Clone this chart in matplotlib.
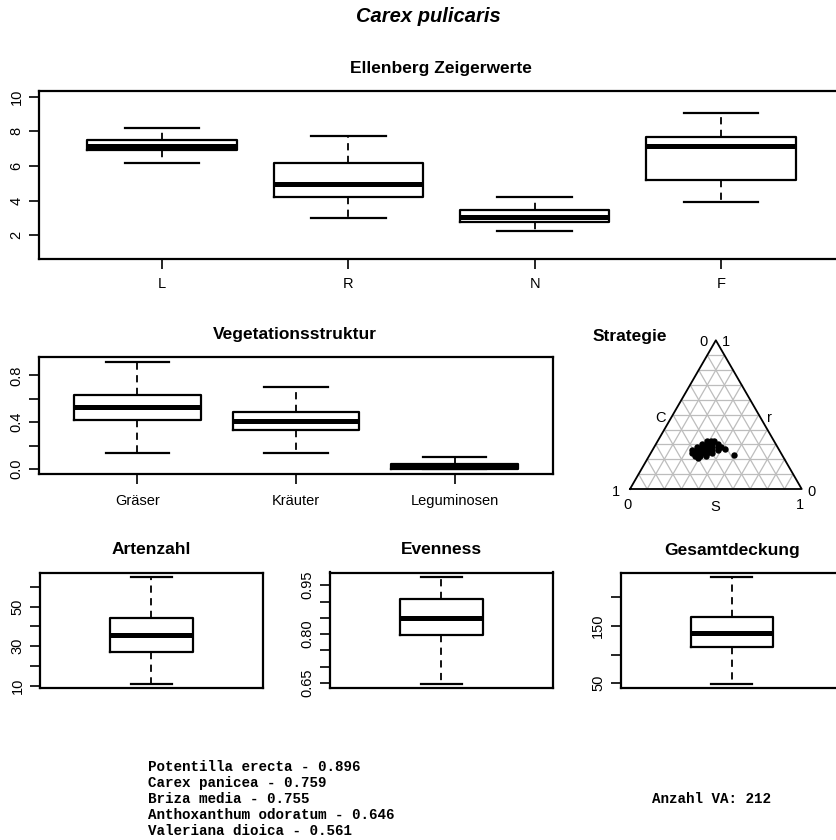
import numpy as np
import matplotlib
matplotlib.use('Agg')
import matplotlib.pyplot as plt

plt.rcParams['font.family'] = ['Liberation Sans', 'DejaVu Sans']

# Ellenberg Zeigerwerte (whislo, q1, med, q3, whishi)
ell_names = ['L', 'R', 'N', 'F']
ell_lo = [6.19, 2.99, 2.28, 3.91]
ell_q1 = [6.91, 4.22, 2.80, 5.20]
ell_med = [7.16, 4.96, 3.08, 7.16]
ell_q3 = [7.48, 6.19, 3.44, 7.67]
ell_hi = [8.20, 7.76, 4.24, 9.09]

# Vegetationsstruktur
veg_names = ['Gräser', 'Kräuter', 'Leguminosen']
veg_lo = [0.134, 0.134, 0.0]
veg_q1 = [0.423, 0.331, 0.0]
veg_med = [0.529, 0.409, 0.022]
veg_q3 = [0.629, 0.491, 0.043]
veg_hi = [0.917, 0.703, 0.106]

# Artenzahl, Evenness, Gesamtdeckung
art = [11, 27, 35.6, 44, 65]
even = [0.648, 0.796, 0.849, 0.909, 0.976]
deck = [49, 114, 137, 166, 236]

# Strategie (C, S, r)
strat_c = [0.39, 0.37, 0.35, 0.43, 0.40, 0.37, 0.34, 0.47, 0.44, 0.41, 0.38, 0.35, 0.33,
           0.51, 0.48, 0.45, 0.42, 0.39, 0.36, 0.52, 0.49, 0.46, 0.43, 0.40, 0.51, 0.48,
           0.45, 0.50, 0.31, 0.28]
strat_s = [0.29, 0.31, 0.33, 0.27, 0.30, 0.33, 0.36, 0.25, 0.28, 0.31, 0.34, 0.37, 0.39,
           0.23, 0.26, 0.29, 0.32, 0.35, 0.38, 0.24, 0.27, 0.30, 0.33, 0.36, 0.27, 0.30,
           0.33, 0.29, 0.42, 0.49]
strat_r = [0.32, 0.32, 0.32, 0.30, 0.30, 0.30, 0.30, 0.28, 0.28, 0.28, 0.28, 0.28, 0.28,
           0.26, 0.26, 0.26, 0.26, 0.26, 0.26, 0.24, 0.24, 0.24, 0.24, 0.24, 0.22, 0.22,
           0.22, 0.21, 0.27, 0.23]

top_species = ['Potentilla erecta - 0.896', 'Carex panicea - 0.759', 'Briza media - 0.755',
               'Anthoxanthum odoratum - 0.646', 'Valeriana dioica - 0.561']
anzahl_va = 212

W, H = 836, 840
fig = plt.figure(figsize=(W / 100, H / 100), dpi=100)


def rect(l, t, r, b):
    return [l / W, 1 - b / H, (r - l) / W, (b - t) / H]


def ftext(x, y, s, **kw):
    fig.text(x / W, 1 - y / H, s, ha='center', va='center', **kw)


def boxes(ax, lo, q1, med, q3, hi, width):
    stats = [dict(whislo=a, q1=b, med=c, q3=d, whishi=e, fliers=[])
             for a, b, c, d, e in zip(lo, q1, med, q3, hi)]
    pos = list(range(1, len(stats) + 1))
    ax.bxp(stats, positions=pos, widths=width, capwidths=width / 2, showfliers=False,
           boxprops=dict(color='black', lw=1.6),
           medianprops=dict(color='black', lw=3.6, solid_capstyle='butt'),
           whiskerprops=dict(color='black', lw=1.3, linestyle=(0, (4, 3))),
           capprops=dict(color='black', lw=1.6))
    ax.set_xlim(0.5 - 0.04 * len(stats), len(stats) + 0.5 + 0.04 * len(stats))
    for sp in ax.spines.values():
        sp.set_linewidth(1.6)
    ax.tick_params(direction='out', length=7, width=1.2, labelsize=10.5)
    return pos


def yticks(ax, ticks, labels):
    ax.set_yticks(ticks)
    ax.set_yticklabels(labels, rotation=90, va='center')
    ax.tick_params(axis='y', pad=4)


ftext(428, 17, 'Carex pulicaris', fontsize=14.5, fontweight='bold', style='italic')

# top panel
ax1 = fig.add_axes(rect(39, 90.5, 844, 259))
pos = boxes(ax1, ell_lo, ell_q1, ell_med, ell_q3, ell_hi, 0.8)
ax1.set_ylim(0.64, 10.36)
ax1.set_xticks(pos)
ax1.set_xticklabels(ell_names)
ax1.tick_params(axis='x', pad=6)
yticks(ax1, [2, 4, 6, 8, 10], ['2', '4', '6', '8', '10'])
ftext(441, 68, 'Ellenberg Zeigerwerte', fontsize=12.5, fontweight='bold')

# middle panel
ax2 = fig.add_axes(rect(39, 357, 553, 473.5))
pos = boxes(ax2, veg_lo, veg_q1, veg_med, veg_q3, veg_hi, 0.8)
ax2.set_ylim(-0.038, 0.958)
ax2.set_xticks(pos)
ax2.set_xticklabels(veg_names)
ax2.tick_params(axis='x', pad=8)
yticks(ax2, [0, 0.2, 0.4, 0.6, 0.8], ['0.0', '', '0.4', '', '0.8'])
ftext(295, 335, 'Vegetationsstruktur', fontsize=12.5, fontweight='bold')

# ternary plot
s = 171.7
hh = np.sqrt(3) / 2
ax3 = fig.add_axes(rect(590, 320, 836, 520))
ax3.set_xlim((590 - 630) / s, (836 - 630) / s)
ax3.set_ylim((489 - 520) / s, (489 - 320) / s)
ax3.axis('off')
for k in range(1, 10):
    f = k / 10
    ax3.plot([f / 2, 1 - f / 2], [f * hh, f * hh], color='#bdbdbd', lw=0.9)
    ax3.plot([f, f + (1 - f) / 2], [0, (1 - f) * hh], color='#bdbdbd', lw=0.9)
    ax3.plot([1 - f, (1 - f) / 2], [0, (1 - f) * hh], color='#bdbdbd', lw=0.9)
ax3.plot([0, 1, 0.5, 0], [0, 0, hh, 0], color='black', lw=1.3)
sx = np.array(strat_s) + np.array(strat_r) / 2
sy = np.array(strat_r) * hh
ax3.plot(sx, sy, 'o', color='black', markersize=4.6, markeredgewidth=0)


def tlab(x, y, t):
    ax3.text((x - 630) / s, (489 - y) / s, t, ha='center', va='center', fontsize=10.5)


tlab(703, 342, '0')
tlab(726, 342, '1')
tlab(660, 418, 'C')
tlab(769, 418, 'r')
tlab(616, 492, '1')
tlab(628, 505, '0')
tlab(812, 492, '0')
tlab(800, 505, '1')
tlab(715, 507, 'S')
ftext(630, 336, 'Strategie', fontsize=12.5, fontweight='bold')

# bottom panels
bottom = [
    ((40, 263), art, 'Artenzahl', [10, 20, 30, 40, 50, 60], ['10', '', '30', '', '50', ''], (8.8, 67.2)),
    ((330, 553), even, 'Evenness', [0.65, 0.70, 0.75, 0.80, 0.85, 0.90, 0.95],
     ['0.65', '', '', '0.80', '', '', '0.95'], (0.635, 0.989)),
    ((620.5, 843), deck, 'Gesamtdeckung', [50, 100, 150, 200], ['50', '', '150', ''], (41.5, 243.5)),
]
for (l, r), vals, title, tk, tl, yl in bottom:
    ax = fig.add_axes(rect(l, 572.5, r, 688))
    boxes(ax, [vals[0]], [vals[1]], [vals[2]], [vals[3]], [vals[4]], 0.4)
    ax.set_ylim(*yl)
    ax.set_xticks([])
    yticks(ax, tk, tl)
    ftext((l + r) / 2, 550, title, fontsize=12.5, fontweight='bold')

for i, line in enumerate(top_species):
    fig.text(148 / W, 1 - (767 + 16 * i) / H, line, ha='left', va='center',
             family='Liberation Mono', fontweight='bold', fontsize=10.3)
fig.text(651.5 / W, 1 - 799 / H, 'Anzahl VA: %d' % anzahl_va, ha='left', va='center',
         family='Liberation Mono', fontweight='bold', fontsize=10.3)

fig.savefig('out.png', dpi=100)
